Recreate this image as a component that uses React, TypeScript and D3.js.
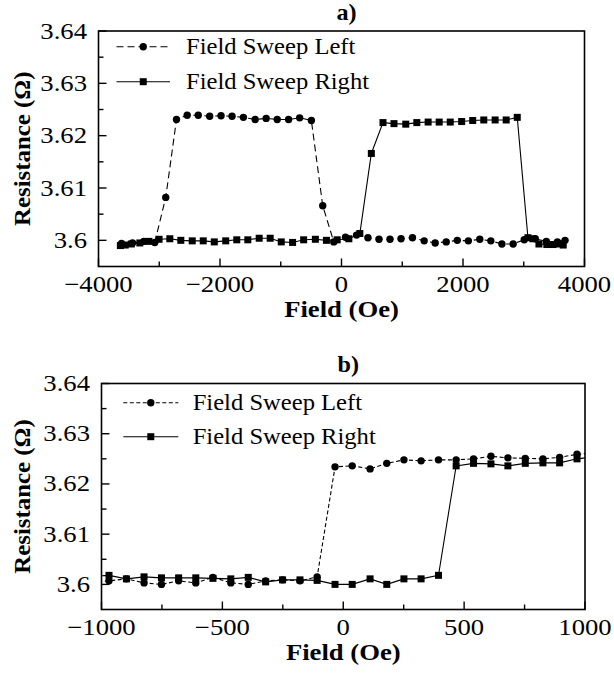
import { useEffect, useRef } from 'react'
import * as d3 from 'd3'

// ─── Data ────────────────────────────────────────────────────────────────────

const aLeftField = [-3620, -3440, -3255, -3074, -2893, -2716, -2540, -2358, -2170, -1983, -1802, -1615, -1421, -1240, -1058, -871, -689, -496, -309, -127, 66, 248, 435, 617, 798, 980, 1168, 1361, 1542, 1724, 1906, 2088, 2276, 2458, 2640, 2826, 3008, 3190, 3372, 3554, 3680]
const aLeftRes = [3.5994, 3.5995, 3.5998, 3.5996, 3.6082, 3.6231, 3.6239, 3.6239, 3.6237, 3.6238, 3.6237, 3.6235, 3.6231, 3.6233, 3.6231, 3.6231, 3.6234, 3.6229, 3.6066, 3.5997, 3.6006, 3.601, 3.6005, 3.6002, 3.6002, 3.6003, 3.6005, 3.5999, 3.5995, 3.5997, 3.6, 3.5999, 3.6002, 3.5999, 3.5993, 3.5993, 3.6001, 3.6003, 3.5998, 3.5997, 3.6]

const aRightField = [-3640, -3560, -3460, -3320, -3170, -3003, -2826, -2645, -2457, -2276, -2094, -1906, -1724, -1542, -1355, -1174, -992, -805, -623, -430, -248, -71, 121, 302, 491, 683, 864, 1058, 1240, 1426, 1608, 1790, 1978, 2160, 2342, 2529, 2711, 2893, 3069, 3150, 3250, 3380, 3480, 3580, 3650]
const aRightRes = [3.599, 3.5991, 3.5993, 3.5995, 3.5998, 3.6002, 3.6003, 3.6, 3.5999, 3.5999, 3.5997, 3.5999, 3.6001, 3.6001, 3.6004, 3.6004, 3.5997, 3.5996, 3.6001, 3.6002, 3.6, 3.6001, 3.6003, 3.6013, 3.6166, 3.6225, 3.6223, 3.6222, 3.6225, 3.6226, 3.6226, 3.6226, 3.6227, 3.6229, 3.623, 3.623, 3.623, 3.6235, 3.6005, 3.6003, 3.5993, 3.5992, 3.5992, 3.5993, 3.5991]

const bField = [-1040, -969, -897, -824, -752, -681, -610, -539, -465, -393, -321, -251, -179, -108, -34, 37, 111, 180, 251, 322, 394, 467, 539, 611, 681, 753, 826, 895, 967, 1040]
const bLeftRes = [3.6004, 3.6007, 3.6011, 3.6003, 3.6, 3.6007, 3.6003, 3.6014, 3.6003, 3.6, 3.6007, 3.6009, 3.6007, 3.6015, 3.6234, 3.6236, 3.623, 3.6241, 3.6248, 3.6246, 3.6248, 3.6248, 3.625, 3.6255, 3.6252, 3.6251, 3.625, 3.6253, 3.6259, 3.6262]
const bRightRes = [3.6016, 3.6018, 3.6011, 3.6015, 3.6013, 3.6013, 3.6013, 3.6012, 3.6011, 3.6014, 3.6005, 3.6009, 3.6009, 3.6008, 3.6, 3.6, 3.6011, 3.6, 3.6011, 3.6011, 3.6018, 3.6236, 3.6241, 3.624, 3.6236, 3.6241, 3.6242, 3.6242, 3.625, 3.6254]

const yMajor = [3.6, 3.61, 3.62, 3.63, 3.64]
const yMinor = [3.605, 3.615, 3.625, 3.635]
const yDomain: [number, number] = [3.595, 3.64]

const aXMajor = [-4000, -2000, 0, 2000, 4000]
const aXMinor = [-3000, -1000, 1000, 3000]
const bXMajor = [-1000, -500, 0, 500, 1000]
const bXMinor = [-750, -250, 250, 750]

const seriesLabels = ['Field Sweep Left', 'Field Sweep Right']

// ─── Style ───────────────────────────────────────────────────────────────────

const FONT = '"Liberation Serif", "Times New Roman", serif'
const INK = '#000'
const SX = 1.16 // the reference text is a little wide

interface Frame { l: number; r: number; t: number; b: number }
interface LegendPos { x0: number; x1: number; row0: number; row1: number; tx: number }

interface PanelSpec {
  id: string
  title: string
  frame: Frame
  xDomain: [number, number]
  xMajor: number[]
  xMinor: number[]
  left: { x: number[]; y: number[] }
  right: { x: number[]; y: number[] }
  dash: string
  legend: LegendPos
}

const panels: PanelSpec[] = [
  {
    id: 'a',
    title: 'a)',
    frame: { l: 98.5, r: 584.5, t: 31, b: 266.5 },
    xDomain: [-4000, 4000],
    xMajor: aXMajor,
    xMinor: aXMinor,
    left: { x: aLeftField, y: aLeftRes },
    right: { x: aRightField, y: aRightRes },
    dash: '7,4',
    legend: { x0: 116.5, x1: 170, row0: 46.7, row1: 81.7, tx: 186 },
  },
  {
    id: 'b',
    title: 'b)',
    frame: { l: 101.5, r: 585, t: 383.5, b: 609.5 },
    xDomain: [-1000, 1000],
    xMajor: bXMajor,
    xMinor: bXMinor,
    left: { x: bField, y: bLeftRes },
    right: { x: bField, y: bRightRes },
    dash: '4,2.5',
    legend: { x0: 123.3, x1: 178.3, row0: 402.7, row1: 436.7, tx: 192.7 },
  },
]

type G = d3.Selection<SVGGElement, unknown, null, undefined>

function label(
  g: G,
  x: number,
  y: number,
  text: string,
  opts: { size?: number; bold?: boolean; anchor?: string; rotate?: number; sx?: number } = {},
) {
  const { size = 23, bold = false, anchor = 'start', rotate = 0, sx = SX } = opts
  g.append('text')
    .attr('transform', `translate(${x},${y}) rotate(${rotate}) scale(${sx},1)`)
    .attr('text-anchor', anchor)
    .attr('font-family', FONT)
    .attr('font-size', size)
    .attr('font-weight', bold ? 'bold' : 'normal')
    .attr('fill', INK)
    .text(text)
}

function drawPanel(root: G, p: PanelSpec) {
  const { frame: f } = p
  const x = d3.scaleLinear().domain(p.xDomain).range([f.l, f.r])
  const y = d3.scaleLinear().domain(yDomain).range([f.b, f.t])
  const g = root.append('g')

  // clip so the end points outside the range only show as line stubs
  const clipId = `clip-${p.id}`
  g.append('clipPath').attr('id', clipId)
    .append('rect')
    .attr('x', f.l).attr('y', f.t).attr('width', f.r - f.l).attr('height', f.b - f.t)

  // ticks (inward)
  const ticks = g.append('g').attr('stroke', INK).attr('stroke-width', 1.4)
  p.xMajor.forEach((v) => ticks.append('line').attr('x1', x(v)).attr('x2', x(v)).attr('y1', f.b).attr('y2', f.b - 8))
  p.xMinor.forEach((v) => ticks.append('line').attr('x1', x(v)).attr('x2', x(v)).attr('y1', f.b).attr('y2', f.b - 5))
  yMajor.forEach((v) => ticks.append('line').attr('x1', f.l).attr('x2', f.l + 8).attr('y1', y(v)).attr('y2', y(v)))
  yMinor.forEach((v) => ticks.append('line').attr('x1', f.l).attr('x2', f.l + 5).attr('y1', y(v)).attr('y2', y(v)))

  // tick labels
  const fmtY = d3.format('.2~f')
  yMajor.forEach((v) => label(g, f.l - 11.5, y(v) + 7.5, fmtY(v), { anchor: 'end' }))
  p.xMajor.forEach((v) =>
    label(g, x(v), f.b + 25, v < 0 ? `\u2212${Math.abs(v)}` : `${v}`, { anchor: 'middle' }),
  )

  // data
  const data = g.append('g').attr('clip-path', `url(#${clipId})`)
  const line = d3.line<[number, number]>().x((d) => x(d[0])).y((d) => y(d[1]))
  const leftPts = p.left.x.map((v, i) => [v, p.left.y[i]] as [number, number])
  const rightPts = p.right.x.map((v, i) => [v, p.right.y[i]] as [number, number])

  data.append('path').attr('d', line(rightPts)!)
    .attr('fill', 'none').attr('stroke', INK).attr('stroke-width', 1.1)
  data.append('path').attr('d', line(leftPts)!)
    .attr('fill', 'none').attr('stroke', INK).attr('stroke-width', 1.1)
    .attr('stroke-dasharray', p.dash)

  const sq = 7
  data.selectAll('.sq').data(rightPts).join('rect')
    .attr('x', (d) => x(d[0]) - sq / 2).attr('y', (d) => y(d[1]) - sq / 2)
    .attr('width', sq).attr('height', sq).attr('fill', INK)
  data.selectAll('.dot').data(leftPts).join('circle')
    .attr('cx', (d) => x(d[0])).attr('cy', (d) => y(d[1])).attr('r', 3.7).attr('fill', INK)

  // frame
  g.append('rect')
    .attr('x', f.l).attr('y', f.t).attr('width', f.r - f.l).attr('height', f.b - f.t)
    .attr('fill', 'none').attr('stroke', INK).attr('stroke-width', 1.6)

  // legend
  const L = p.legend
  const lg = g.append('g')
  const mid = (L.x0 + L.x1) / 2
  lg.append('line').attr('x1', L.x0).attr('x2', L.x1).attr('y1', L.row0).attr('y2', L.row0)
    .attr('stroke', INK).attr('stroke-width', 1.1).attr('stroke-dasharray', p.dash)
  lg.append('circle').attr('cx', mid).attr('cy', L.row0).attr('r', 3.7).attr('fill', INK)
  lg.append('line').attr('x1', L.x0).attr('x2', L.x1).attr('y1', L.row1).attr('y2', L.row1)
    .attr('stroke', INK).attr('stroke-width', 1.1)
  lg.append('rect').attr('x', mid - sq / 2).attr('y', L.row1 - sq / 2).attr('width', sq).attr('height', sq).attr('fill', INK)
  label(lg, L.tx, L.row0 + 7.5, seriesLabels[0], { sx: 1.07 })
  label(lg, L.tx, L.row1 + 7.5, seriesLabels[1], { sx: 1.07 })

  // titles
  label(g, (f.l + f.r) / 2 + 5, f.t - 11.5, p.title, { bold: true, anchor: 'middle', sx: 1.05 })
  label(g, (f.l + f.r) / 2, f.b + 50, 'Field (Oe)', { bold: true, anchor: 'middle' })
  label(g, 30, (f.t + f.b) / 2, 'Resistance (\u03A9)', { bold: true, anchor: 'middle', rotate: -90, sx: 1.08 })
}

export default function App() {
  const ref = useRef<SVGSVGElement>(null)

  useEffect(() => {
    if (!ref.current) return
    const svg = d3.select(ref.current)
    svg.selectAll('*').remove()
    const root = svg.append('g') as unknown as G
    panels.forEach((p) => drawPanel(root, p))
  }, [])

  return (
    <svg
      ref={ref}
      width={614}
      height={686}
      viewBox="0 0 614 686"
      style={{ position: 'absolute', left: 0, top: 0, background: '#fff', display: 'block' }}
    />
  )
}
